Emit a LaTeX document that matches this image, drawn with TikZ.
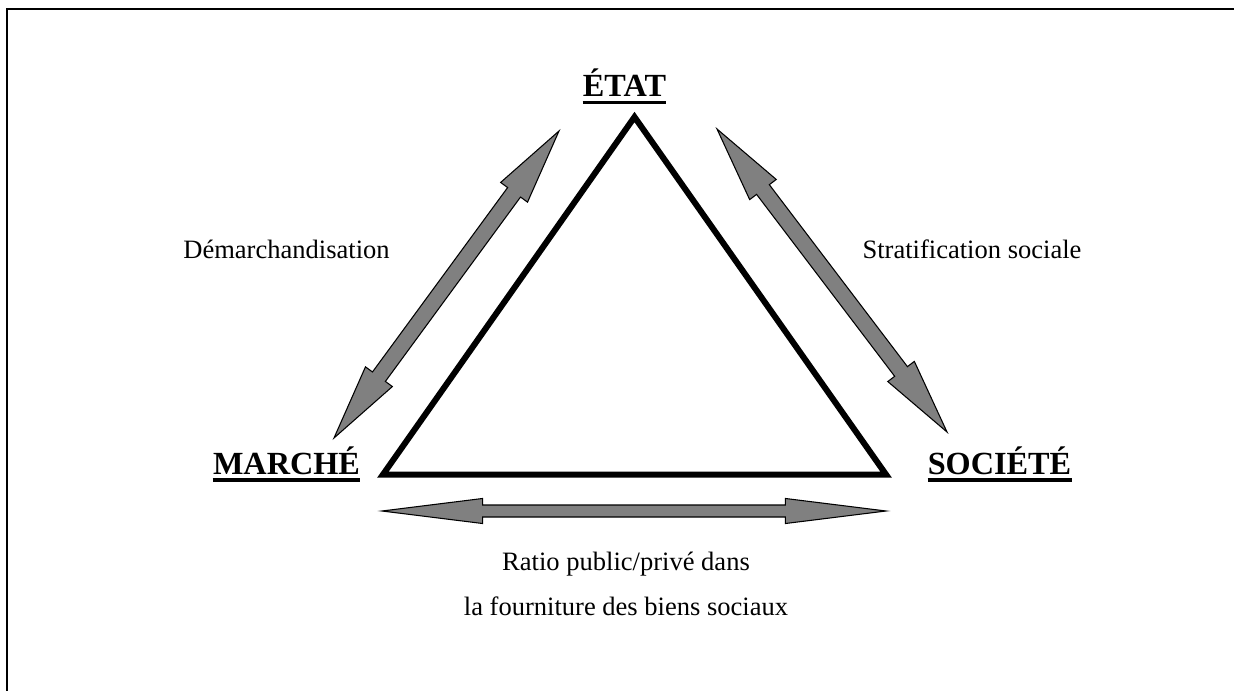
\documentclass[tikz,border=0pt]{standalone}
\usepackage{fontspec}
\setmainfont{Liberation Serif}
\usetikzlibrary{calc}
\definecolor{arrowgray}{RGB}{128,128,128}
\tikzset{
  pole/.style={inner sep=0pt, anchor=base, font=\fontsize{24.2}{28}\selectfont\bfseries},
  txt/.style={inner sep=0pt, anchor=base, font=\fontsize{19.9}{24}\selectfont},
  uline/.style={line width=2.3pt},
  tri/.style={line width=4.5pt, line join=miter},
  arrowbox/.style={draw=black, fill=arrowgray, line width=0.8pt, line join=miter},
  frame/.style={line width=1.7pt}
}
% double block arrow: from, to, head length, head half width, shaft half width
\newcommand{\dblarrow}[5]{%
  \coordinate (#1-h) at ($(#1)!#3!(#2)$);
  \coordinate (#2-h) at ($(#2)!#3!(#1)$);
  \filldraw[arrowbox] (#1) -- ($(#1-h)!#4!90:(#2)$) -- ($(#1-h)!#5!90:(#2)$)
    -- ($(#2-h)!#5!-90:(#1)$) -- ($(#2-h)!#4!-90:(#1)$) -- (#2)
    -- ($(#2-h)!#4!90:(#1)$) -- ($(#2-h)!#5!90:(#1)$)
    -- ($(#1-h)!#5!-90:(#2)$) -- ($(#1-h)!#4!-90:(#2)$) -- cycle;}
\begin{document}
\begin{tikzpicture}[x=0.75pt, y=-0.75pt]
  \useasboundingbox (0,0) rectangle (1234,691);
  \draw[frame] (7,691) -- (7,9) -- (1234,9);
  % triangle
  \coordinate (te) at (634.5,117);
  \coordinate (tm) at (383,474.5);
  \coordinate (ts) at (886,474.5);
  \draw[tri](te) -- (tm) -- (ts) -- cycle;
  % poles
  \node[pole] (etat) at (624.5,97){ÉTAT};
  \node[pole] (marche) at (286.5,474){MARCHÉ};
  \node[pole] (societe) at (999.5,474){SOCIÉTÉ};
  \draw[uline]($(etat.base west)+(0,5.5)$) -- ($(etat.base east)+(0,5.5)$);
  \draw[uline]($(marche.base west)+(0,6)$) -- ($(marche.base east)+(0,6)$);
  \draw[uline]($(societe.base west)+(0,6)$) -- ($(societe.base east)+(0,6)$);
  % arrows
  \coordinate (ma) at (334,438);
  \coordinate (mb) at (559,131);
  \coordinate (sa) at (717,129);
  \coordinate (sb) at (947,432);
  \coordinate (ra) at (382,511);
  \coordinate (rb) at (886,511);
  \dblarrow{ma}{mb}{57pt}{12.5pt}{6pt}
  \dblarrow{sa}{sb}{57pt}{12.5pt}{6pt}
  \dblarrow{ra}{rb}{75.5pt}{9.4pt}{4.5pt}
  % labels
  \node[txt] (demarch) at (286.5,259){Démarchandisation};
  \node[txt] (strat) at (972,259){Stratification sociale};
  \node[txt] (ratio1) at (626,570){Ratio public/privé dans};
  \node[txt] (ratio2) at (626,615){la fourniture des biens sociaux};
\end{tikzpicture}
\end{document}
